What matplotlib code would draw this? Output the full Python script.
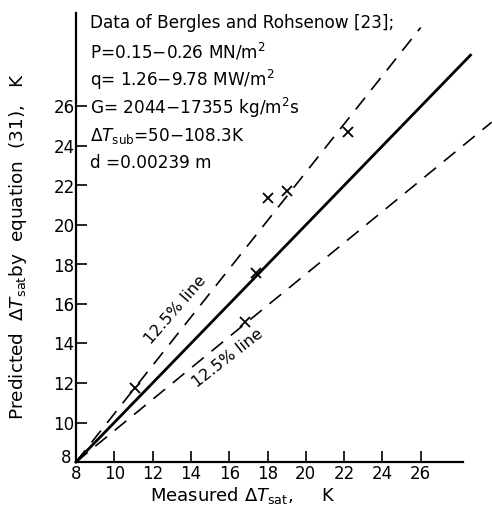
import matplotlib
matplotlib.use('Agg')
import matplotlib.pyplot as plt
import matplotlib.transforms as mtransforms

# measured vs predicted superheat
measured = [11.1, 16.8, 17.4, 18.0, 19.0, 22.2]
predicted = [11.75, 15.1, 17.55, 21.35, 21.7, 24.7]

# reference lines (start at origin of the plot, 8 K)
line_x = [8, 28.6]
line_y = [8, 28.6]
upper_x = [8, 26.0]
upper_y = [8, 30.0]
lower_x = [8, 29.7]
lower_y = [8, 25.2]

ticks = [8, 10, 12, 14, 16, 18, 20, 22, 24, 26]

info_lines = [
    'Data of Bergles and Rohsenow [23];',
    r'P=0.15$-$0.26 MN/m$^2$',
    r'q= 1.26$-$9.78 MW/m$^2$',
    r'G= 2044$-$17355 kg/m$^2$s',
    r'$\Delta T_{\mathrm{sub}}$=50$-$108.3K',
    'd =0.00239 m',
]
info_y = [23, 52, 80, 108, 136, 163]

plt.rcParams['mathtext.fontset'] = 'dejavusans'
W, H = 492, 511
fig = plt.figure(figsize=(W / 100, H / 100), dpi=100)
ax = fig.add_axes([76 / W, 49 / H, (W - 76) / W, (462 - 13) / H])

ax.plot(line_x, line_y, color='black', lw=2.0, clip_on=False)
ax.plot(upper_x, upper_y, color='black', lw=1.2, dashes=(9, 6), clip_on=False)
ax.plot(lower_x, lower_y, color='black', lw=1.2, dashes=(9, 6), clip_on=False)
ax.plot(measured, predicted, 'x', color='black', ms=7, mew=1.3)

ax.set_xlim(8, 8 + (W - 76) / 19.15)
ax.set_ylim(8, 8 + (462 - 13) / 19.75)
ax.spines['top'].set_visible(False)
ax.spines['right'].set_visible(False)
ax.spines['bottom'].set_bounds(8, 28.2)
ax.spines['bottom'].set_linewidth(1.6)
ax.spines['left'].set_linewidth(1.6)
ax.set_xticks(ticks)
ax.set_yticks(ticks)
ax.tick_params(direction='in', length=8, width=1.2, labelsize=12)
ax.tick_params(axis='y', pad=1)
ax.tick_params(axis='x', pad=2)

# lift the y "8" a little so it clears the x "8" at the corner
lab8 = ax.yaxis.get_major_ticks()[0].label1
lab8.set_transform(lab8.get_transform() + mtransforms.ScaledTranslation(-2 / 72, 4 / 72, fig.dpi_scale_trans))

ax.text(13.2, 15.7, '12.5% line', rotation=49, ha='center', va='center', fontsize=11.5)
ax.text(15.9, 13.27, '12.5% line', rotation=38, ha='center', va='center', fontsize=11.5)

for txt, yp in zip(info_lines, info_y):
    fig.text(90 / W, 1 - yp / H, txt, fontsize=12.2, ha='left', va='center')

fig.text(243 / W, 1 - 496 / H, r'Measured $\Delta T_{\mathrm{sat}}$,     K', fontsize=13,
         ha='center', va='center')
fig.text(18 / W, 1 - 246 / H, r'Predicted  $\Delta T_{\mathrm{sat}}$by  equation  (31),   K',
         fontsize=13.3, rotation=90, ha='center', va='center')

fig.savefig('out.png', dpi=100)
